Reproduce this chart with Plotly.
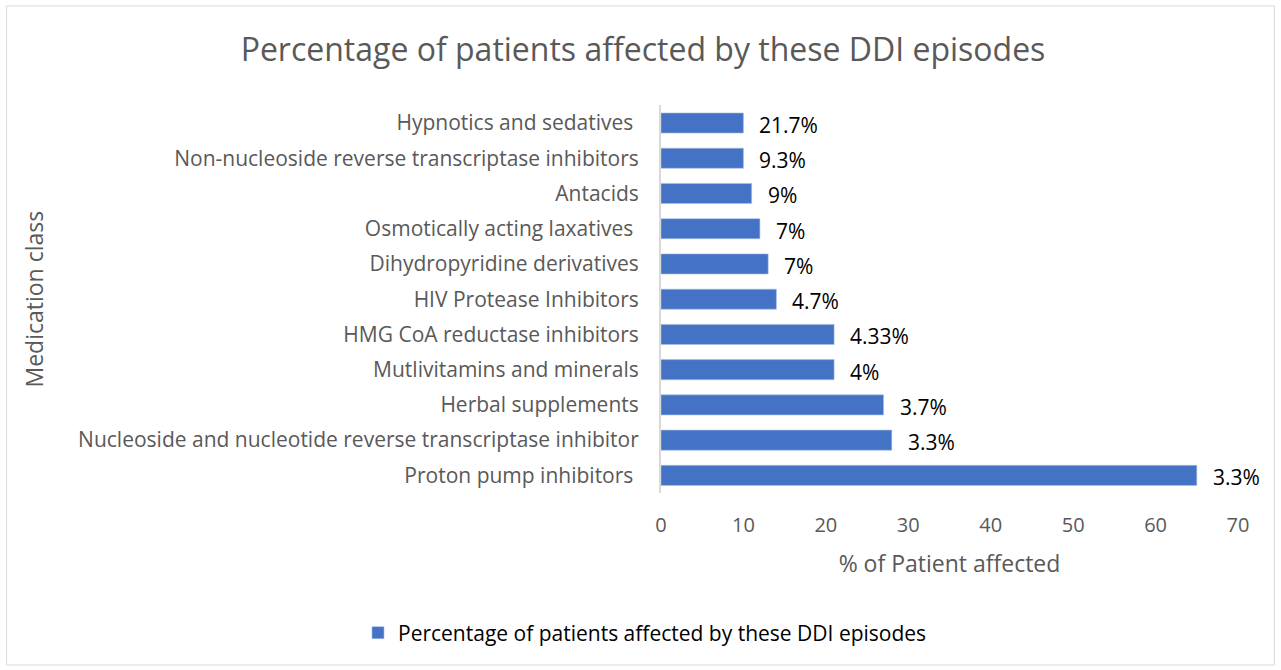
import plotly.graph_objects as go

# Medication classes, top to bottom
categories = [
    "Hypnotics and sedatives ",
    "Non-nucleoside reverse transcriptase inhibitors",
    "Antacids",
    "Osmotically acting laxatives ",
    "Dihydropyridine derivatives",
    "HIV Protease Inhibitors",
    "HMG CoA reductase inhibitors",
    "Mutlivitamins and minerals",
    "Herbal supplements",
    "Nucleoside and nucleotide reverse transcriptase inhibitor",
    "Proton pump inhibitors ",
]
patients_affected = [10, 10, 11, 12, 13, 14, 21, 21, 27, 28, 65]
value_labels = ["21.7%", "9.3%", "9%", "7%", "7%", "4.7%", "4.33%", "4%", "3.7%", "3.3%", "3.3%"]
x_ticks = [0, 10, 20, 30, 40, 50, 60, 70]

W, H = 1281, 670
L, R, T, B = 661, 42.5, 105, 177
pw, ph = W - L - R, H - T - B

BLUE = "#4472C4"
GREY = "#595959"
FONT = "Open Sans"

fig = go.Figure()
fig.add_trace(go.Bar(
    y=categories,
    x=patients_affected,
    orientation="h",
    marker=dict(color=BLUE, line=dict(color="#a9bfe6", width=0.6)),
    name="Percentage of patients affected by these DDI episodes",
    showlegend=True,
))

for cat, val, lab in zip(categories, patients_affected, value_labels):
    fig.add_annotation(
        x=val, y=cat, text=lab, showarrow=False,
        xanchor="left", xshift=14, yshift=-2,
        font=dict(family=FONT, size=21, color="#000000"),
    )


def px_x(p):
    return (p - L) / pw


def px_y(p):
    return (T + ph - p) / ph


# Vertical axis title
fig.add_annotation(
    xref="paper", yref="paper",
    x=px_x(33), y=px_y(299), xanchor="center", yanchor="middle",
    text="Medication class", textangle=-90, showarrow=False,
    font=dict(family=FONT, size=23, color=GREY),
)

# Chart-area border
fig.add_shape(
    type="rect", xref="paper", yref="paper",
    x0=px_x(6), x1=px_x(1275), y0=px_y(6), y1=px_y(665),
    line=dict(color="#d9d9d9", width=1), fillcolor="rgba(0,0,0,0)", layer="below",
)

fig.update_layout(
    width=W, height=H,
    margin=dict(l=L, r=R, t=T, b=B),
    paper_bgcolor="white", plot_bgcolor="white",
    bargap=0.43,
    title=dict(
        text="Percentage of patients affected by these DDI episodes",
        x=643 / W, xref="container", xanchor="center",
        y=1 - 50 / H, yref="container", yanchor="middle",
        font=dict(family=FONT, size=32, color=GREY),
    ),
    xaxis=dict(
        range=[0, 70], tickvals=x_ticks, showgrid=False, zeroline=False,
        showline=False, ticks="outside", ticklen=14, tickcolor="rgba(0,0,0,0)",
        tickfont=dict(family=FONT, size=20, color=GREY),
        title=dict(text="% of Patient affected", standoff=18,
                   font=dict(family=FONT, size=23, color=GREY)),
    ),
    yaxis=dict(
        autorange="reversed", showgrid=False, zeroline=False,
        showline=True, linecolor="#d9d9d9", linewidth=2,
        ticks="outside", ticklen=16, tickcolor="rgba(0,0,0,0)",
        tickfont=dict(family=FONT, size=21, color=GREY),
    ),
    legend=dict(
        orientation="h", xref="container", yref="container",
        x=645 / W, xanchor="center", y=1 - 633 / H, yanchor="middle",
        font=dict(family=FONT, size=21, color="#000000"),
        itemwidth=30,
    ),
)

fig.write_html("out.html")
